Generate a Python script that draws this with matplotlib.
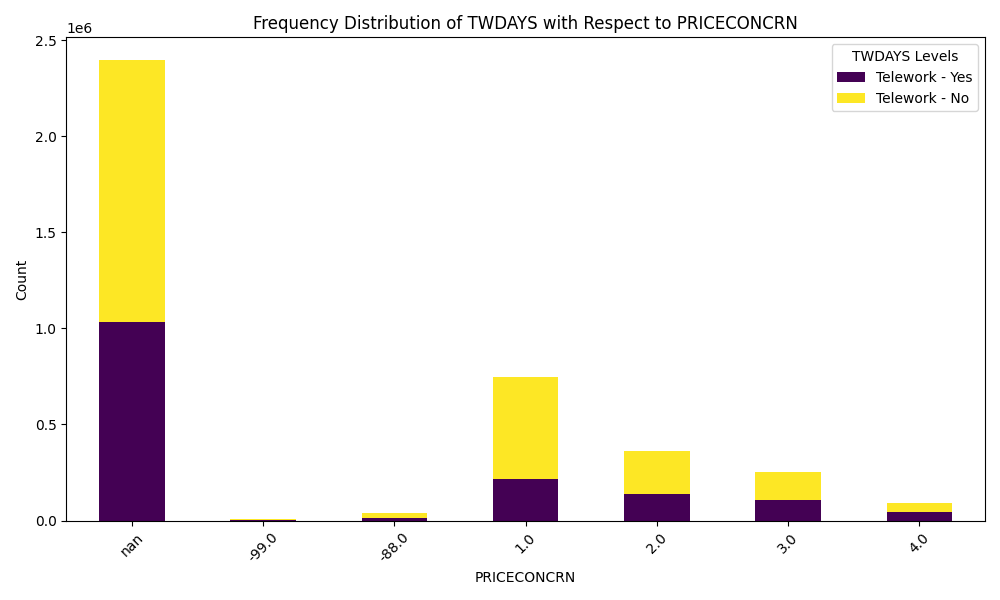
import matplotlib
matplotlib.use("Agg")
import matplotlib.pyplot as plt
import pandas as pd

categories = ["nan", "-99.0", "-88.0", "1.0", "2.0", "3.0", "4.0"]
telework_yes = [1035000, 5000, 15000, 215000, 140000, 108000, 42000]
telework_no = [1360000, 2000, 25000, 530000, 222000, 145000, 48000]

df = pd.DataFrame(
    {"Telework - Yes": telework_yes, "Telework - No": telework_no},
    index=categories,
)

fig, ax = plt.subplots(figsize=(10, 6))
df.plot(kind="bar", stacked=True, colormap="viridis", ax=ax)
ax.set_title("Frequency Distribution of TWDAYS with Respect to PRICECONCRN")
ax.set_xlabel("PRICECONCRN")
ax.set_ylabel("Count")
ax.tick_params(axis="x", rotation=45)
ax.legend(title="TWDAYS Levels")
plt.tight_layout()
plt.savefig("out.png", dpi=100)
